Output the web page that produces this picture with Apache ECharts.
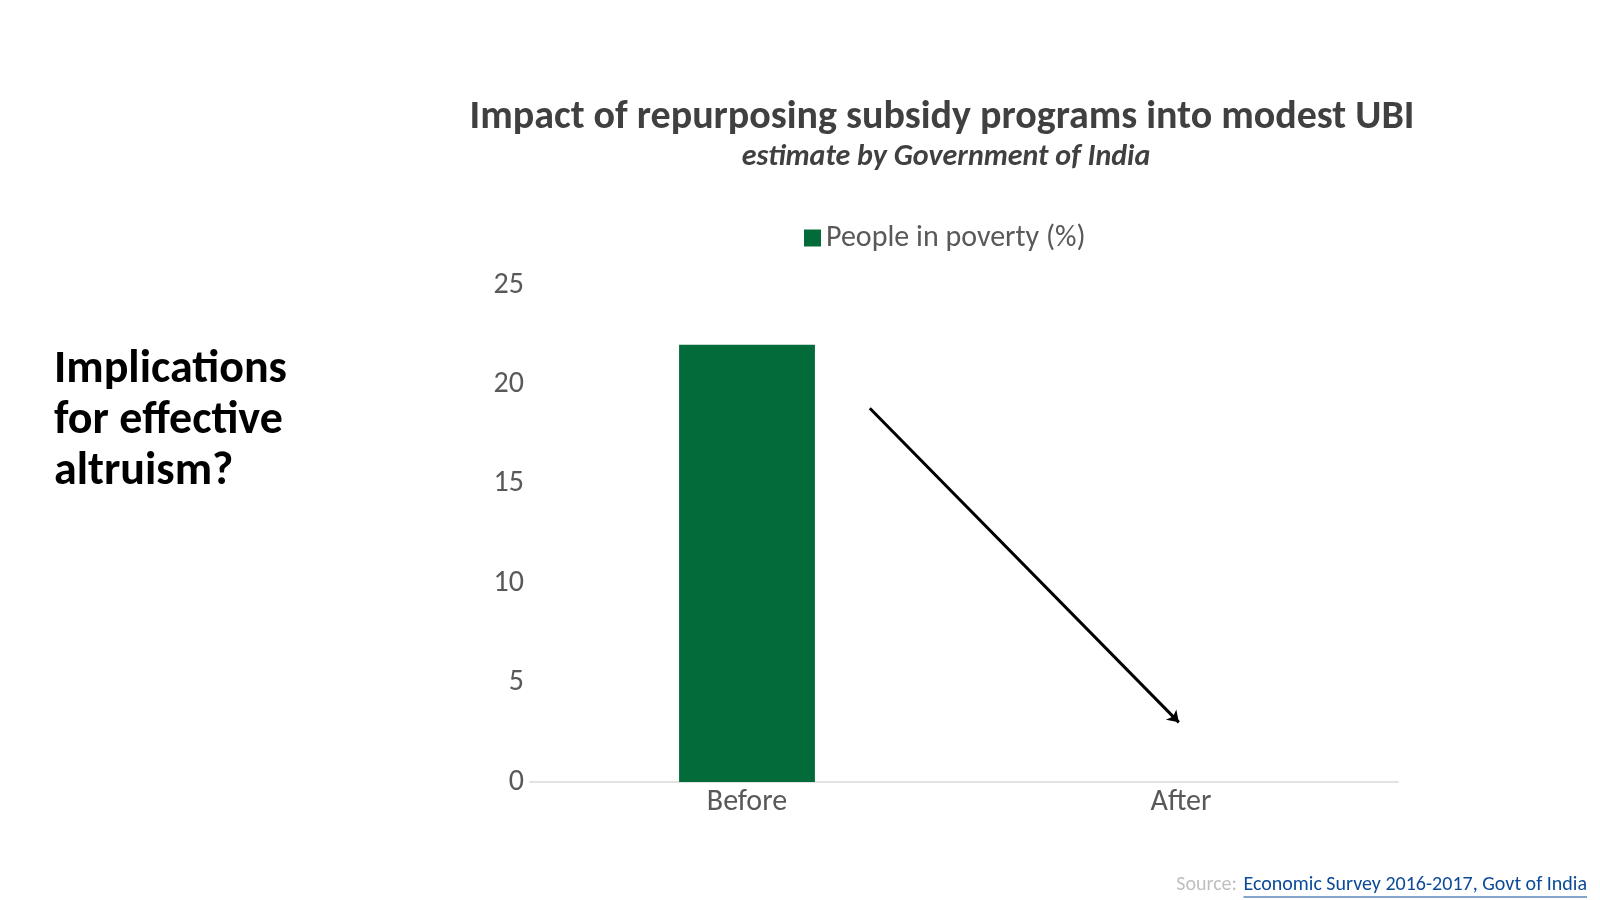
<!DOCTYPE html>
<html>
<head>
<meta charset="utf-8">
<script src="https://cdn.jsdelivr.net/npm/echarts@6/dist/echarts.min.js"></script>
<style>
html,body{margin:0;padding:0;background:#fff;}
#chart{width:1600px;height:900px;}
</style>
</head>
<body>
<div id="chart"></div>
<script>
// ---- data ----
const categories = ['Before', 'After'];
const povertyValues = [22, 0];
const seriesName = 'People in poverty (%)';
const yTicks = [0, 5, 10, 15, 20, 25];
// arrow annotation endpoints in data space (x: category position, y: value)
const arrowStart = [0.283, 18.8];
const arrowEnd = [0.995, 3.0];

const titleText = 'Impact of repurposing subsidy programs into modest UBI';
const subtitleText = 'estimate by Government of India';
const sideText = 'Implications\nfor effective\naltruism?';
const sourceLabel = 'Source: ';
const sourceLink = 'Economic Survey 2016-2017, Govt of India';

const FONT = 'Carlito, Calibri, Lato, "Open Sans", sans-serif';

const chart = echarts.init(document.getElementById('chart'));

function measure(text, font) {
  const c = document.createElement('canvas').getContext('2d');
  c.font = font;
  return c.measureText(text).width;
}

const srcFontSize = 20;
const linkW = measure(sourceLink, srcFontSize + 'px ' + FONT);
const srcRight = 1587;

const option = {
  backgroundColor: '#ffffff',
  textStyle: { fontFamily: FONT },
  title: [
    {
      text: titleText,
      left: 937, top: 93,
      textAlign: 'center',
      textStyle: { fontSize: 40, fontWeight: 'bold', color: '#404040', fontFamily: FONT }
    },
    {
      text: subtitleText,
      left: 941, top: 137,
      textAlign: 'center',
      textStyle: { fontSize: 30, fontWeight: 'bold', fontStyle: 'italic', color: '#404040', fontFamily: FONT }
    },
    {
      text: sideText,
      left: 49, top: 340,
      textStyle: { fontSize: 46, fontWeight: 'bold', color: '#000000', lineHeight: 51, fontFamily: FONT }
    }
  ],
  legend: {
    data: [seriesName],
    top: 218,
    left: 799,
    icon: 'rect',
    itemWidth: 17,
    itemHeight: 17,
    itemGap: 8,
    textStyle: { fontSize: 30, color: '#595959', fontFamily: FONT }
  },
  grid: { left: 530, right: 202, top: 285, bottom: 118, containLabel: false },
  xAxis: [
    {
      type: 'category',
      data: categories,
      axisLine: { lineStyle: { color: '#D9D9D9', width: 1.5 } },
      axisTick: { show: false },
      axisLabel: { fontSize: 30, color: '#595959', margin: 5, fontFamily: FONT }
    },
    {
      type: 'value',
      min: -0.5, max: 1.5,
      show: false
    }
  ],
  yAxis: {
    type: 'value',
    min: yTicks[0], max: yTicks[yTicks.length - 1], interval: 5,
    axisLine: { show: false },
    axisTick: { show: false },
    splitLine: { show: false },
    axisLabel: { fontSize: 30, color: '#595959', margin: 6, fontFamily: FONT }
  },
  series: [
    {
      name: seriesName,
      type: 'bar',
      data: povertyValues,
      barWidth: '31.3%',
      itemStyle: { color: '#036A3A' },
      xAxisIndex: 0
    },
    {
      type: 'lines',
      coordinateSystem: 'cartesian2d',
      xAxisIndex: 1,
      yAxisIndex: 0,
      symbol: ['none', 'arrow'],
      symbolSize: 11,
      lineStyle: { color: '#000000', width: 3, opacity: 1 },
      data: [{ coords: [arrowStart, arrowEnd] }],
      silent: true,
      z: 5
    }
  ],
  graphic: [
    {
      type: 'text',
      right: 1600 - srcRight + linkW + 2,
      top: 875,
      style: { text: sourceLabel, fontSize: srcFontSize, fill: '#BFBFBF', fontFamily: FONT }
    },
    {
      type: 'text',
      right: 1600 - srcRight,
      top: 875,
      style: { text: sourceLink, fontSize: srcFontSize, fill: '#0B4A98', fontFamily: FONT }
    },
    {
      type: 'line',
      shape: { x1: srcRight - linkW, y1: 897, x2: srcRight, y2: 897 },
      style: { stroke: '#0B4A98', lineWidth: 1.2 }
    }
  ]
};
chart.setOption(option);
</script>
</body>
</html>
